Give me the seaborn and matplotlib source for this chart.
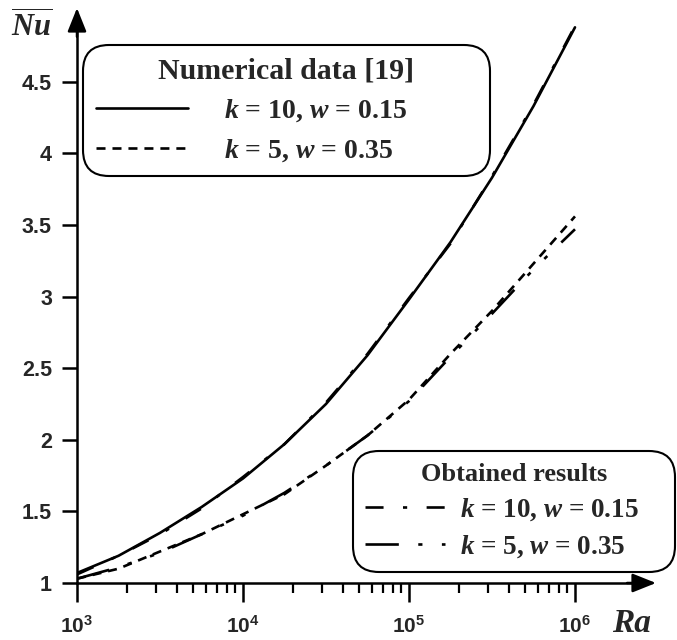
import numpy as np
import pandas as pd
import matplotlib
matplotlib.use("Agg")
import matplotlib.pyplot as plt
from matplotlib.lines import Line2D
from matplotlib.ticker import FixedLocator, NullFormatter
import seaborn as sns

# ---------------- data ----------------
log_ra = [3.0, 3.25, 3.5, 3.75, 4.0, 4.25, 4.5, 4.75, 5.0, 5.25, 5.5, 5.75, 6.0]
num_k10 = [1.07, 1.19, 1.35, 1.53, 1.73, 1.97, 2.25, 2.59, 2.98, 3.38, 3.83, 4.33, 4.88]
num_k5 = [1.03, 1.10, 1.22, 1.34, 1.48, 1.62, 1.82, 2.03, 2.28, 2.60, 2.90, 3.23, 3.56]
obt_k10 = [1.06, 1.19, 1.34, 1.52, 1.74, 1.97, 2.26, 2.60, 2.99, 3.37, 3.84, 4.34, 4.89]
obt_k5 = [1.03, 1.11, 1.21, 1.34, 1.47, 1.63, 1.82, 2.03, 2.27, 2.58, 2.88, 3.19, 3.47]

y_ticks = [1, 1.5, 2, 2.5, 3, 3.5, 4, 4.5]
y_tick_labels = ["1", "1.5", "2", "2.5", "3", "3.5", "4", "4.5"]
x_ticks = [1e3, 1e4, 1e5, 1e6]
x_tick_labels = [r"$\mathbf{10^{3}}$", r"$\mathbf{10^{4}}$", r"$\mathbf{10^{5}}$", r"$\mathbf{10^{6}}$"]

series_labels = [r"$k$ = 10, $w$ = 0.15", r"$k$ = 5, $w$ = 0.35"]
legend1_title = "Numerical data [19]"
legend2_title = "Obtained results"

ra = [10 ** v for v in log_ra]
df = pd.DataFrame({
    "Ra": ra * 4,
    "Nu": num_k10 + num_k5 + obt_k10 + obt_k5,
    "series": (["num10"] * len(ra) + ["num5"] * len(ra)
               + ["obt10"] * len(ra) + ["obt5"] * len(ra)),
})

# ---------------- style ----------------
sns.set_style("white")
plt.rcParams["font.family"] = ["Liberation Sans", "DejaVu Sans"]
plt.rcParams["mathtext.fontset"] = "custom"
plt.rcParams["mathtext.it"] = "Liberation Serif:italic:bold"
plt.rcParams["mathtext.rm"] = "Liberation Serif:bold"
plt.rcParams["mathtext.bf"] = "Liberation Sans:bold"
plt.rcParams["lines.scale_dashes"] = False

W, H = 677, 640
fig = plt.figure(figsize=(W / 100, H / 100), dpi=100)
x0, x1, y0, y1 = 77, 656, 583, 8
ax = fig.add_axes([x0 / W, (H - y0) / H, (x1 - x0) / W, (y0 - y1) / H])
ax.set_facecolor("none")

styles = {
    "num10": "-",
    "num5": (0, (6.5, 5)),
    "obt10": (0, (13, 14, 3, 14)),
    "obt5": (0, (24, 14, 3, 14, 3, 14)),
}
LW = 1.9
for key in ["num10", "num5", "obt10", "obt5"]:
    sub = df[df["series"] == key]
    sns.lineplot(data=sub, x="Ra", y="Nu", ax=ax, color="black",
                 linewidth=LW, linestyle=styles[key], legend=False)

ax.set_xscale("log")
ax.set_xlim(1e3, 10 ** 6.488)
ax.set_ylim(1, 5.015)
ax.set_xlabel("")
ax.set_ylabel("")

for s in ["top", "right"]:
    ax.spines[s].set_visible(False)
for s in ["left", "bottom"]:
    ax.spines[s].set_linewidth(1.8)
    ax.spines[s].set_color("black")
ax.spines["bottom"].set_bounds(1e3, 10 ** 6.40)
ax.spines["left"].set_bounds(1, 4.93)

# arrows on the axes
arrow_style = "-|>,head_length=0.6,head_width=0.24"
ax.annotate("", xy=(1.0, 0.0), xytext=(0.95, 0.0), xycoords="axes fraction",
            arrowprops=dict(arrowstyle=arrow_style, mutation_scale=24,
                            color="black", lw=1.8, shrinkA=0, shrinkB=0),
            annotation_clip=False)
ax.annotate("", xy=(0.0, 1.0), xytext=(0.0, 0.95), xycoords="axes fraction",
            arrowprops=dict(arrowstyle=arrow_style, mutation_scale=24,
                            color="black", lw=1.8, shrinkA=0, shrinkB=0),
            annotation_clip=False)

# ticks
ax.xaxis.set_major_locator(FixedLocator(x_ticks))
ax.set_xticklabels(x_tick_labels)
minor = [m * 10 ** d for d in (3, 4, 5) for m in range(2, 10)]
ax.xaxis.set_minor_locator(FixedLocator(minor))
ax.xaxis.set_minor_formatter(NullFormatter())
ax.set_yticks(y_ticks)
ax.set_yticklabels(y_tick_labels)
ax.tick_params(axis="x", which="major", direction="out", length=14, width=1.8,
               pad=9, labelsize=15, bottom=True, color="black")
ax.tick_params(axis="x", which="minor", direction="out", length=7.5, width=1.6,
               bottom=True, color="black")
ax.tick_params(axis="y", which="major", direction="out", length=11, width=1.8,
               pad=7, labelsize=15.5, left=True, color="black")
for t in ax.get_yticklabels():
    t.set_fontweight("bold")

# legends
serif = {"family": "Liberation Serif", "weight": "bold"}
h1 = [Line2D([], [], color="black", lw=LW, linestyle=styles["num10"]),
      Line2D([], [], color="black", lw=LW, linestyle=styles["num5"])]
fs1 = 20
leg1 = ax.legend(h1, series_labels, title=legend1_title,
                 loc="upper left", mode="expand",
                 bbox_to_anchor=(83 / W, 1 - 177 / H, (490 - 83) / W, (177 - 45) / H),
                 bbox_transform=fig.transFigure, borderaxespad=0,
                 prop=dict(serif, size=fs1),
                 title_fontproperties=dict(serif, size=21.5),
                 handlelength=92 / (fs1 * 1.389), handletextpad=36 / (fs1 * 1.389),
                 borderpad=0.46, labelspacing=0.46, frameon=True, fancybox=True,
                 edgecolor="black", framealpha=1)
leg1.get_frame().set_linewidth(1.5)
leg1.get_frame().set_boxstyle("round,pad=0,rounding_size=0.95")
ax.add_artist(leg1)

h2 = [Line2D([], [], color="black", lw=LW, linestyle=styles["obt10"]),
      Line2D([], [], color="black", lw=LW, linestyle=styles["obt5"])]
fs2 = 19.5
leg2 = ax.legend(h2, series_labels, title=legend2_title,
                 loc="lower left", mode="expand",
                 bbox_to_anchor=(353 / W, 1 - 572 / H, (675 - 353) / W, (572 - 442) / H),
                 bbox_transform=fig.transFigure, borderaxespad=0,
                 prop=dict(serif, size=fs2),
                 title_fontproperties=dict(serif, size=19),
                 handlelength=80 / (fs2 * 1.389), handletextpad=15 / (fs2 * 1.389),
                 borderpad=0.44, labelspacing=0.38, frameon=True, fancybox=True,
                 edgecolor="black", framealpha=1)
leg2.get_frame().set_linewidth(1.5)
leg2.get_frame().set_boxstyle("round,pad=0,rounding_size=0.95")

# axis labels
fig.text(32 / W, 1 - 27 / H, r"$\overline{Nu}$", fontsize=22,
         ha="center", va="center")
fig.text(632 / W, 1 - 624 / H, "Ra", fontsize=24, ha="center", va="center",
         family="Liberation Serif", style="italic", weight="bold")

fig.savefig("out.png", dpi=100)
